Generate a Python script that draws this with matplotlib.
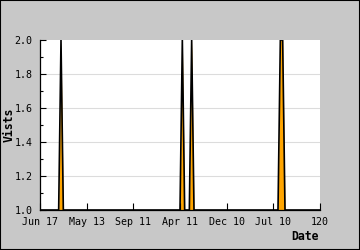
import matplotlib
matplotlib.use("Agg")
import matplotlib.pyplot as plt
import numpy as np

# Data
days = list(range(0, 121))
spikes = {9: 2.0, 61: 2.0, 65: 2.0, 103: 2.0, 104: 2.0}
visits = [spikes.get(d, 1.0) for d in days]
x_ticks = [0, 20, 40, 60, 80, 100, 120]
x_labels = ['Jun 17', 'May 13', 'Sep 11', 'Apr 11', 'Dec 10', 'Jul 10', '120']
y_ticks = [1.0, 1.2, 1.4, 1.6, 1.8, 2.0]

mono = ['DejaVu Sans Mono']
fig = plt.figure(figsize=(3.6, 2.5), dpi=100, facecolor='#c8c8c8')
fig.patches.append(plt.Rectangle((0, 0), 1, 1, transform=fig.transFigure,
                                 fill=False, edgecolor='black', linewidth=1.5))
ax = fig.add_axes([40/360, 1-210/250, 280/360, 170/250])
ax.set_facecolor('white')
ax.fill_between(days, visits, 1.0, color='#ffa500', linewidth=0)
ax.plot(days, visits, color='black', linewidth=1.2)
ax.set_xlim(0, 120)
ax.set_ylim(1.0, 2.0)
ax.set_xticks(x_ticks)
ax.set_xticklabels(x_labels, family=mono, fontsize=7.2)
ax.set_yticks(y_ticks)
ax.set_yticklabels([f"{v:.1f}" for v in y_ticks], family=mono, fontsize=7.2)
ax.set_yticks(np.arange(1.1, 2.0, 0.2), minor=True)
ax.tick_params(axis='y', direction='in', length=4, width=0.8, pad=5.5)
ax.tick_params(axis='y', which='minor', direction='in', length=2, width=0.8)
ax.tick_params(axis='x', direction='in', length=5, width=0.8, pad=5)
for v in y_ticks[1:-1]:
    ax.axhline(v, color='#dcdcdc', linewidth=0.8, zorder=0)
for s in ['top', 'right']:
    ax.spines[s].set_visible(False)
for s in ['left', 'bottom']:
    ax.spines[s].set_linewidth(0.9)
fig.text(9.5/360, 1-125/250, 'Vists', family=mono, fontsize=8.3, fontweight='bold',
         rotation=90, ha='center', va='center')
fig.text(319/360, 1-236.5/250, 'Date', family=mono, fontsize=8.3, fontweight='bold',
         ha='right', va='center')
fig.savefig('out.png', dpi=100, facecolor=fig.get_facecolor())
